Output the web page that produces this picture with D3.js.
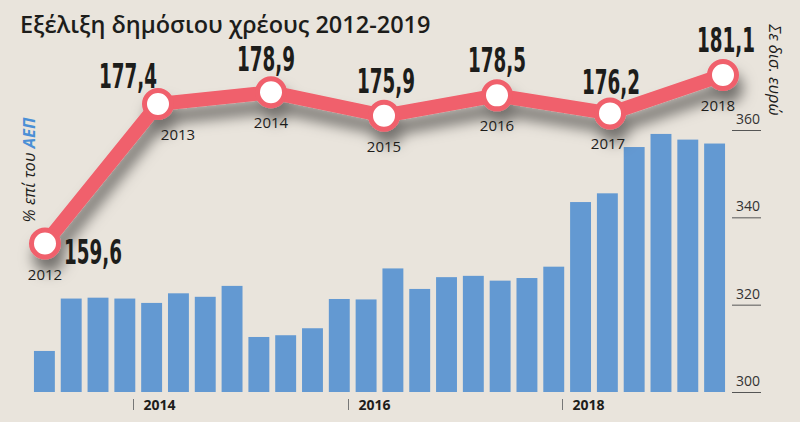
<!DOCTYPE html>
<html>
<head>
<meta charset="utf-8">
<script src="https://cdn.jsdelivr.net/npm/d3@7"></script>
<style>
    body { margin: 0; background: #e9e4dc; }
    svg { display: block; }
    .title { font-family: "Open Sans", sans-serif; font-weight: 600; font-size: 23.5px; fill: #1d1d1b; }
    .val { font-family: "Liberation Sans Narrow", "DejaVu Sans Condensed", sans-serif; font-weight: bold; font-size: 34px; fill: #1d1d1b; }
    .yr { font-family: "Open Sans", sans-serif; font-size: 15px; fill: #1d1d1b; }
    .axis-txt { font-family: "Open Sans", sans-serif; font-size: 14px; fill: #333; }
    .xlab { font-family: "Open Sans", sans-serif; font-weight: bold; font-size: 14px; fill: #1d1d1b; }
    .side { font-family: "Open Sans", sans-serif; font-style: italic; font-size: 16.5px; fill: #1d1d1b; }
</style>
</head>
<body>
<svg id="chart" width="800" height="422"></svg>
<script>
// quarterly debt, bn euro (bars)
var quarters = ["2013Q1", "2013Q2", "2013Q3", "2013Q4", "2014Q1", "2014Q2", "2014Q3", "2014Q4",
    "2015Q1", "2015Q2", "2015Q3", "2015Q4", "2016Q1", "2016Q2", "2016Q3", "2016Q4",
    "2017Q1", "2017Q2", "2017Q3", "2017Q4", "2018Q1", "2018Q2", "2018Q3", "2018Q4",
    "2019Q1", "2019Q2"];
var debtBn = [309.4, 321.4, 321.6, 321.4, 320.4, 322.6, 321.8, 324.3,
    312.6, 313.0, 314.6, 321.3, 321.2, 328.3, 323.6, 326.3,
    326.6, 325.5, 326.1, 328.7, 343.5, 345.5, 356.1, 359.1,
    357.8, 356.9];
// yearly debt, % of GDP (line)
var years = [2012, 2013, 2014, 2015, 2016, 2017, 2018];
var debtPct = [159.6, 177.4, 178.9, 175.9, 178.5, 176.2, 181.1];
var pctLabels = ["159,6", "177,4", "178,9", "175,9", "178,5", "176,2", "181,1"];
var rightTicks = [300, 320, 340, 360];
var xTickYears = [2014, 2016, 2018];

var svg = d3.select("#chart");
var red = "#f0606c", blue = "#6399d2";

svg.append("rect").attr("width", 800).attr("height", 422).attr("fill", "#e9e4dc");

var defs = svg.append("defs");
var f = defs.append("filter").attr("id", "shadow")
    .attr("x", "-10%").attr("y", "-30%").attr("width", "130%").attr("height", "180%");
f.append("feDropShadow").attr("dx", 4).attr("dy", 13).attr("stdDeviation", 7)
    .attr("flood-color", "#000").attr("flood-opacity", 0.5);

// title
svg.append("text").attr("class", "title").attr("x", 20).attr("y", 33)
    .text("Εξέλιξη δημόσιου χρέους 2012-2019");

// bars
var xb = d3.scaleBand().domain(quarters).range([31, 728]).paddingInner(0.22).paddingOuter(0.11);
var yb = d3.scaleLinear().domain([300, 360]).range([392, 130]);

svg.append("g").selectAll("rect").data(debtBn).enter().append("rect")
    .attr("x", function (d, i) { return xb(quarters[i]); })
    .attr("y", function (d) { return yb(d); })
    .attr("width", xb.bandwidth())
    .attr("height", function (d) { return yb(300) - yb(d); })
    .attr("fill", blue);

// right axis
var ra = svg.append("g");
rightTicks.forEach(function (t) {
    ra.append("line").attr("x1", 732).attr("x2", 761)
        .attr("y1", yb(t) + 0.5).attr("y2", yb(t) + 0.5)
        .attr("stroke", "#555").attr("stroke-width", 1);
    ra.append("text").attr("class", "axis-txt").attr("x", 760).attr("y", yb(t) - 6)
        .attr("text-anchor", "end").text(t);
});

// bottom year ticks
var gapHalf = xb.step() * xb.paddingInner() / 2;
xTickYears.forEach(function (yr) {
    var tx = Math.round(xb(yr + "Q1") - gapHalf - 5) + 0.5;
    svg.append("line").attr("x1", tx).attr("x2", tx).attr("y1", 399).attr("y2", 410)
        .attr("stroke", "#777").attr("stroke-width", 1);
    svg.append("text").attr("class", "xlab").attr("x", tx + 10).attr("y", 410).text(yr);
});

// side labels
var ll = svg.append("text").attr("class", "side")
    .attr("transform", "translate(35,170) rotate(-90)").attr("text-anchor", "middle");
ll.append("tspan").text("% επί του ");
ll.append("tspan").attr("fill", "#4a8fd6").attr("font-weight", "bold").text("ΑΕΠ");

svg.append("text").attr("class", "side")
    .attr("transform", "translate(769,70) rotate(90)").attr("text-anchor", "middle")
    .text("Σε δισ. ευρώ");

// line
var xl = d3.scaleLinear().domain([2012, 2018]).range([45, 723]);
var yl = d3.scaleLinear().domain([150, 190]).range([318.8, 5.2]);

var lg = svg.append("g").attr("filter", "url(#shadow)");
lg.append("path")
    .datum(debtPct)
    .attr("d", d3.line()
        .x(function (d, i) { return xl(years[i]); })
        .y(function (d) { return yl(d); }))
    .attr("fill", "none").attr("stroke", red).attr("stroke-width", 14)
    .attr("stroke-linejoin", "round");
lg.selectAll("circle").data(debtPct).enter().append("circle")
    .attr("cx", function (d, i) { return xl(years[i]); })
    .attr("cy", function (d) { return yl(d); })
    .attr("r", 13.5)
    .attr("fill", "#fff").attr("stroke", red).attr("stroke-width", 5);

// value labels (first one sits to the right, second nudged left off the line)
var valDx = [48, -30, -5, 2, 0, 1, 3];
var valDy = [20, -16, -21, -23, -23, -19, -23];
svg.append("g").selectAll("text").data(debtPct).enter().append("text")
    .attr("class", "val")
    .attr("text-anchor", "middle")
    .attr("transform", function (d, i) {
        return "translate(" + (xl(years[i]) + valDx[i]) + "," + (yl(d) + valDy[i]) + ") scale(0.6,1)";
    })
    .text(function (d, i) { return pctLabels[i]; });

// year labels under the points
var yrDx = [0, 20, 0, 0, 0, -2, -5];
svg.append("g").selectAll("text").data(debtPct).enter().append("text")
    .attr("class", "yr").attr("text-anchor", "middle")
    .attr("x", function (d, i) { return xl(years[i]) + yrDx[i]; })
    .attr("y", function (d) { return yl(d) + 36; })
    .text(function (d, i) { return years[i]; });
</script>
</body>
</html>
